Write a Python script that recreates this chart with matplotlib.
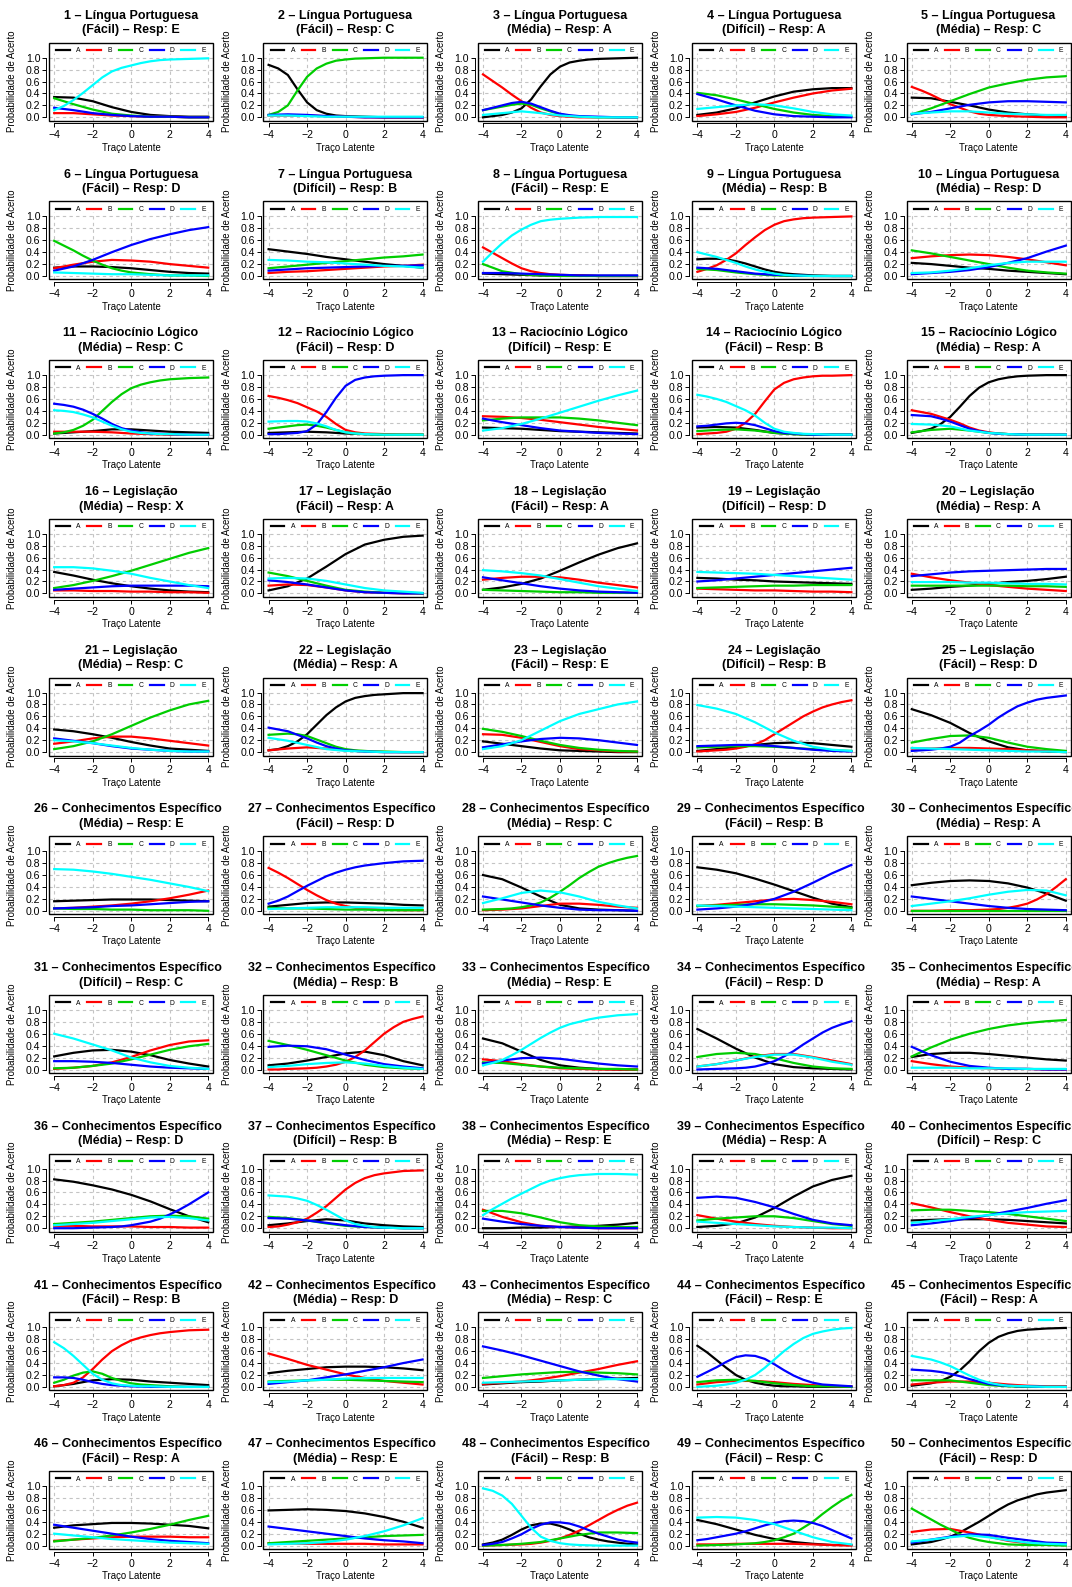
import matplotlib
matplotlib.use("Agg")
import matplotlib.pyplot as plt
from matplotlib.patches import Rectangle
from matplotlib.lines import Line2D
from matplotlib.transforms import Bbox, TransformedBbox

plt.rcParams['font.family'] = ['Liberation Sans', 'DejaVu Sans']

# traço latente onde as curvas foram lidas
theta = [-4, -3, -2, -1, 0, 1, 2, 3, 4]
# meios-passos, lidos só nas curvas mais íngremes
theta_meio = [-3.5, -2.5, -1.5, -0.5, 0.5, 1.5, 2.5, 3.5]

areas = (["Língua Portuguesa"] * 10 + ["Raciocínio Lógico"] * 5 +
         ["Legislação"] * 10 + ["Conhecimentos Específicos"] * 25)
niveis = ["Fácil", "Fácil", "Média", "Difícil", "Média", "Fácil", "Difícil", "Fácil", "Média", "Média",
          "Média", "Fácil", "Difícil", "Fácil", "Média",
          "Média", "Fácil", "Fácil", "Difícil", "Média", "Média", "Média", "Fácil", "Difícil", "Fácil",
          "Média", "Fácil", "Média", "Fácil", "Média", "Difícil", "Média", "Média", "Fácil", "Média",
          "Média", "Difícil", "Média", "Média", "Difícil", "Fácil", "Média", "Média", "Fácil", "Fácil",
          "Fácil", "Média", "Fácil", "Fácil", "Fácil"]
gabarito = ["E", "C", "A", "A", "C", "D", "B", "E", "B", "D",
            "C", "D", "E", "B", "A",
            "X", "A", "A", "D", "A", "C", "A", "E", "B", "D",
            "E", "D", "C", "B", "A", "C", "B", "E", "D", "A",
            "D", "B", "E", "A", "C", "B", "D", "C", "E", "A",
            "A", "E", "B", "C", "D"]

prob_A = [
    [0.34, 0.33, 0.27, 0.17, 0.09, 0.04, 0.02, 0.01, 0.01],
    [0.88, 0.71, 0.25, 0.06, 0.02, 0.01, 0.0, 0.0, 0.0],
    [0.00, 0.04, 0.15, 0.52, 0.85, 0.95, 0.98, 0.99, 1.0],
    [0.04, 0.08, 0.15, 0.25, 0.35, 0.43, 0.47, 0.49, 0.49],
    [0.33, 0.32, 0.26, 0.2, 0.13, 0.08, 0.05, 0.03, 0.02],
    [0.14, 0.16, 0.16, 0.15, 0.13, 0.1, 0.07, 0.05, 0.04],
    [0.45, 0.41, 0.37, 0.32, 0.28, 0.24, 0.2, 0.17, 0.14],
    [0.04, 0.03, 0.02, 0.01, 0.01, 0.01, 0.0, 0.0, 0.0],
    [0.28, 0.29, 0.25, 0.16, 0.07, 0.03, 0.01, 0.0, 0.0],
    [0.22, 0.2, 0.17, 0.14, 0.12, 0.09, 0.07, 0.05, 0.03],
    [0.02, 0.04, 0.06, 0.09, 0.09, 0.07, 0.05, 0.04, 0.03],
    [0.03, 0.04, 0.05, 0.04, 0.02, 0.01, 0.0, 0.0, 0.0],
    [0.12, 0.11, 0.1, 0.08, 0.06, 0.05, 0.04, 0.03, 0.02],
    [0.12, 0.13, 0.12, 0.08, 0.03, 0.01, 0.0, 0.0, 0.0],
    [0.03, 0.1, 0.3, 0.65, 0.88, 0.96, 0.99, 1.0, 1.0],
    [0.36, 0.3, 0.23, 0.17, 0.12, 0.08, 0.05, 0.03, 0.02],
    [0.05, 0.12, 0.25, 0.45, 0.66, 0.82, 0.9, 0.95, 0.97],
    [0.06, 0.1, 0.16, 0.25, 0.38, 0.52, 0.65, 0.76, 0.84],
    [0.26, 0.25, 0.23, 0.22, 0.2, 0.19, 0.18, 0.17, 0.16],
    [0.06, 0.08, 0.11, 0.13, 0.16, 0.19, 0.21, 0.24, 0.28],
    [0.38, 0.35, 0.3, 0.24, 0.17, 0.11, 0.06, 0.04, 0.02],
    [0.03, 0.1, 0.3, 0.62, 0.85, 0.94, 0.97, 0.99, 0.99],
    [0.18, 0.14, 0.1, 0.06, 0.03, 0.02, 0.01, 0.0, 0.0],
    [0.02, 0.05, 0.08, 0.12, 0.15, 0.16, 0.15, 0.12, 0.09],
    [0.72, 0.62, 0.49, 0.32, 0.18, 0.08, 0.03, 0.01, 0.0],
    [0.16, 0.17, 0.18, 0.19, 0.19, 0.19, 0.18, 0.17, 0.16],
    [0.07, 0.1, 0.13, 0.14, 0.14, 0.13, 0.12, 0.1, 0.09],
    [0.6, 0.53, 0.39, 0.24, 0.1, 0.04, 0.02, 0.01, 0.0],
    [0.73, 0.69, 0.63, 0.54, 0.44, 0.33, 0.22, 0.12, 0.06],
    [0.43, 0.47, 0.5, 0.51, 0.5, 0.46, 0.39, 0.29, 0.17],
    [0.22, 0.28, 0.32, 0.33, 0.3, 0.24, 0.16, 0.1, 0.05],
    [0.07, 0.1, 0.15, 0.21, 0.27, 0.3, 0.24, 0.14, 0.07],
    [0.52, 0.44, 0.3, 0.16, 0.07, 0.03, 0.01, 0.0, 0.0],
    [0.68, 0.52, 0.35, 0.2, 0.09, 0.04, 0.02, 0.01, 0.0],
    [0.21, 0.26, 0.28, 0.28, 0.26, 0.23, 0.2, 0.17, 0.15],
    [0.82, 0.78, 0.72, 0.65, 0.56, 0.45, 0.32, 0.2, 0.1],
    [0.05, 0.08, 0.12, 0.15, 0.13, 0.08, 0.05, 0.03, 0.02],
    [0.0, 0.0, 0.01, 0.01, 0.02, 0.03, 0.04, 0.06, 0.09],
    [0.02, 0.04, 0.08, 0.18, 0.34, 0.53, 0.7, 0.81, 0.88],
    [0.13, 0.14, 0.15, 0.15, 0.15, 0.14, 0.12, 0.1, 0.08],
    [0.01, 0.05, 0.11, 0.13, 0.12, 0.09, 0.07, 0.05, 0.03],
    [0.23, 0.27, 0.3, 0.33, 0.34, 0.34, 0.33, 0.31, 0.28],
    [0.04, 0.06, 0.08, 0.09, 0.11, 0.12, 0.13, 0.14, 0.15],
    [0.69, 0.45, 0.2, 0.07, 0.02, 0.01, 0.0, 0.0, 0.0],
    [0.02, 0.06, 0.17, 0.43, 0.74, 0.9, 0.96, 0.98, 0.99],
    [0.3, 0.34, 0.36, 0.38, 0.38, 0.37, 0.35, 0.33, 0.29],
    [0.59, 0.6, 0.61, 0.6, 0.58, 0.54, 0.48, 0.4, 0.3],
    [0.02, 0.1, 0.27, 0.37, 0.33, 0.2, 0.1, 0.05, 0.02],
    [0.43, 0.36, 0.27, 0.18, 0.11, 0.06, 0.03, 0.01, 0.01],
    [0.02, 0.06, 0.15, 0.31, 0.5, 0.69, 0.81, 0.89, 0.93],
]

prob_B = [
    [0.07, 0.07, 0.05, 0.03, 0.02, 0.01, 0.01, 0.0, 0.0],
    [0.03, 0.03, 0.03, 0.02, 0.01, 0.0, 0.0, 0.0, 0.0],
    [0.72, 0.5, 0.27, 0.08, 0.02, 0.0, 0.0, 0.0, 0.0],
    [0.02, 0.05, 0.09, 0.16, 0.25, 0.33, 0.4, 0.45, 0.48],
    [0.51, 0.38, 0.22, 0.1, 0.04, 0.02, 0.01, 0.0, 0.0],
    [0.13, 0.19, 0.24, 0.27, 0.26, 0.24, 0.2, 0.17, 0.14],
    [0.05, 0.07, 0.08, 0.1, 0.12, 0.14, 0.16, 0.17, 0.19],
    [0.48, 0.3, 0.13, 0.05, 0.02, 0.01, 0.0, 0.0, 0.0],
    [0.07, 0.18, 0.38, 0.65, 0.86, 0.95, 0.98, 0.99, 1.0],
    [0.3, 0.33, 0.35, 0.36, 0.35, 0.32, 0.28, 0.23, 0.18],
    [0.05, 0.05, 0.05, 0.04, 0.02, 0.01, 0.0, 0.0, 0.0],
    [0.65, 0.58, 0.46, 0.3, 0.08, 0.02, 0.01, 0.0, 0.0],
    [0.31, 0.3, 0.28, 0.25, 0.21, 0.17, 0.13, 0.1, 0.07],
    [0.01, 0.03, 0.1, 0.35, 0.76, 0.93, 0.98, 0.99, 1.0],
    [0.41, 0.35, 0.25, 0.12, 0.04, 0.01, 0.0, 0.0, 0.0],
    [0.05, 0.05, 0.04, 0.04, 0.03, 0.03, 0.02, 0.02, 0.01],
    [0.13, 0.15, 0.14, 0.1, 0.05, 0.02, 0.01, 0.0, 0.0],
    [0.23, 0.26, 0.28, 0.28, 0.27, 0.23, 0.18, 0.14, 0.1],
    [0.08, 0.07, 0.06, 0.05, 0.05, 0.04, 0.03, 0.03, 0.02],
    [0.33, 0.27, 0.22, 0.18, 0.14, 0.11, 0.08, 0.06, 0.04],
    [0.14, 0.18, 0.23, 0.26, 0.26, 0.23, 0.19, 0.15, 0.11],
    [0.03, 0.06, 0.08, 0.06, 0.03, 0.01, 0.0, 0.0, 0.0],
    [0.3, 0.29, 0.24, 0.17, 0.1, 0.05, 0.03, 0.01, 0.01],
    [0.01, 0.03, 0.06, 0.13, 0.3, 0.5, 0.68, 0.8, 0.87],
    [0.06, 0.06, 0.07, 0.07, 0.06, 0.05, 0.03, 0.02, 0.01],
    [0.04, 0.05, 0.07, 0.09, 0.12, 0.16, 0.21, 0.27, 0.34],
    [0.72, 0.55, 0.35, 0.18, 0.08, 0.04, 0.02, 0.01, 0.01],
    [0.01, 0.02, 0.04, 0.08, 0.12, 0.12, 0.1, 0.07, 0.05],
    [0.08, 0.1, 0.13, 0.16, 0.19, 0.2, 0.18, 0.15, 0.11],
    [0.0, 0.0, 0.01, 0.01, 0.02, 0.05, 0.12, 0.28, 0.53],
    [0.01, 0.03, 0.06, 0.12, 0.21, 0.32, 0.41, 0.47, 0.49],
    [0.0, 0.01, 0.02, 0.05, 0.13, 0.32, 0.6, 0.8, 0.89],
    [0.17, 0.14, 0.09, 0.05, 0.02, 0.01, 0.0, 0.0, 0.0],
    [0.05, 0.09, 0.15, 0.22, 0.26, 0.26, 0.21, 0.15, 0.09],
    [0.14, 0.09, 0.05, 0.03, 0.02, 0.01, 0.01, 0.0, 0.0],
    [0.04, 0.04, 0.03, 0.03, 0.03, 0.02, 0.02, 0.01, 0.01],
    [0.02, 0.06, 0.16, 0.37, 0.65, 0.84, 0.92, 0.96, 0.97],
    [0.31, 0.19, 0.1, 0.04, 0.02, 0.01, 0.0, 0.0, 0.0],
    [0.22, 0.16, 0.11, 0.07, 0.04, 0.02, 0.01, 0.0, 0.0],
    [0.42, 0.35, 0.27, 0.2, 0.14, 0.09, 0.06, 0.03, 0.02],
    [0.01, 0.07, 0.3, 0.6, 0.78, 0.87, 0.92, 0.95, 0.96],
    [0.56, 0.47, 0.37, 0.29, 0.21, 0.15, 0.1, 0.07, 0.04],
    [0.05, 0.07, 0.09, 0.13, 0.18, 0.24, 0.3, 0.37, 0.43],
    [0.04, 0.08, 0.1, 0.1, 0.08, 0.05, 0.03, 0.01, 0.01],
    [0.04, 0.07, 0.09, 0.09, 0.07, 0.04, 0.02, 0.01, 0.01],
    [0.08, 0.1, 0.12, 0.14, 0.15, 0.15, 0.15, 0.14, 0.14],
    [0.04, 0.04, 0.03, 0.03, 0.03, 0.03, 0.02, 0.02, 0.02],
    [0.0, 0.01, 0.02, 0.05, 0.12, 0.25, 0.43, 0.6, 0.72],
    [0.02, 0.02, 0.03, 0.03, 0.03, 0.03, 0.02, 0.01, 0.0],
    [0.23, 0.27, 0.28, 0.22, 0.15, 0.08, 0.04, 0.02, 0.01],
]

prob_C = [
    [0.32, 0.22, 0.13, 0.06, 0.03, 0.01, 0.01, 0.0, 0.0],
    [0.04, 0.2, 0.68, 0.9, 0.97, 0.99, 1.0, 1.0, 1.0],
    [0.12, 0.18, 0.23, 0.15, 0.05, 0.01, 0.0, 0.0, 0.0],
    [0.41, 0.37, 0.3, 0.22, 0.14, 0.08, 0.04, 0.02, 0.01],
    [0.05, 0.15, 0.27, 0.39, 0.5, 0.57, 0.63, 0.67, 0.69],
    [0.59, 0.43, 0.26, 0.13, 0.06, 0.03, 0.01, 0.01, 0.0],
    [0.13, 0.16, 0.19, 0.22, 0.25, 0.28, 0.31, 0.33, 0.36],
    [0.2, 0.08, 0.03, 0.01, 0.0, 0.0, 0.0, 0.0, 0.0],
    [0.12, 0.1, 0.06, 0.03, 0.01, 0.0, 0.0, 0.0, 0.0],
    [0.43, 0.38, 0.32, 0.26, 0.2, 0.14, 0.09, 0.06, 0.04],
    [0.02, 0.08, 0.25, 0.55, 0.78, 0.88, 0.93, 0.95, 0.96],
    [0.1, 0.14, 0.17, 0.12, 0.04, 0.01, 0.0, 0.0, 0.0],
    [0.24, 0.27, 0.29, 0.29, 0.29, 0.27, 0.24, 0.2, 0.16],
    [0.06, 0.08, 0.09, 0.07, 0.03, 0.01, 0.0, 0.0, 0.0],
    [0.04, 0.08, 0.1, 0.07, 0.03, 0.01, 0.0, 0.0, 0.0],
    [0.09, 0.14, 0.21, 0.29, 0.38, 0.48, 0.58, 0.68, 0.76],
    [0.35, 0.29, 0.21, 0.13, 0.06, 0.03, 0.01, 0.01, 0.0],
    [0.06, 0.05, 0.04, 0.03, 0.02, 0.02, 0.01, 0.01, 0.01],
    [0.09, 0.1, 0.11, 0.12, 0.13, 0.13, 0.14, 0.14, 0.14],
    [0.13, 0.13, 0.13, 0.13, 0.13, 0.13, 0.12, 0.12, 0.11],
    [0.05, 0.1, 0.18, 0.3, 0.44, 0.58, 0.7, 0.8, 0.86],
    [0.29, 0.31, 0.27, 0.15, 0.05, 0.02, 0.01, 0.0, 0.0],
    [0.39, 0.34, 0.27, 0.19, 0.12, 0.07, 0.04, 0.02, 0.01],
    [0.08, 0.09, 0.1, 0.1, 0.09, 0.07, 0.05, 0.03, 0.02],
    [0.16, 0.22, 0.27, 0.28, 0.24, 0.16, 0.09, 0.05, 0.02],
    [0.04, 0.03, 0.03, 0.02, 0.02, 0.01, 0.01, 0.01, 0.0],
    [0.05, 0.04, 0.04, 0.03, 0.02, 0.02, 0.01, 0.01, 0.01],
    [0.02, 0.03, 0.06, 0.14, 0.32, 0.55, 0.74, 0.85, 0.92],
    [0.08, 0.09, 0.1, 0.11, 0.11, 0.1, 0.09, 0.07, 0.05],
    [0.0, 0.0, 0.0, 0.0, 0.0, 0.0, 0.0, 0.0, 0.0],
    [0.02, 0.03, 0.06, 0.1, 0.17, 0.25, 0.33, 0.39, 0.43],
    [0.48, 0.41, 0.33, 0.24, 0.15, 0.08, 0.04, 0.02, 0.01],
    [0.12, 0.11, 0.08, 0.05, 0.03, 0.02, 0.01, 0.01, 0.0],
    [0.21, 0.26, 0.28, 0.26, 0.19, 0.11, 0.05, 0.02, 0.01],
    [0.22, 0.37, 0.5, 0.6, 0.68, 0.74, 0.78, 0.81, 0.83],
    [0.07, 0.09, 0.11, 0.14, 0.17, 0.2, 0.21, 0.2, 0.16],
    [0.19, 0.17, 0.13, 0.08, 0.04, 0.02, 0.01, 0.0, 0.0],
    [0.29, 0.29, 0.25, 0.18, 0.1, 0.05, 0.03, 0.02, 0.02],
    [0.13, 0.16, 0.18, 0.2, 0.2, 0.17, 0.12, 0.07, 0.04],
    [0.3, 0.31, 0.31, 0.29, 0.27, 0.24, 0.2, 0.16, 0.12],
    [0.07, 0.19, 0.26, 0.15, 0.06, 0.03, 0.01, 0.0, 0.0],
    [0.09, 0.1, 0.11, 0.12, 0.12, 0.11, 0.1, 0.09, 0.08],
    [0.15, 0.18, 0.21, 0.23, 0.25, 0.25, 0.24, 0.23, 0.21],
    [0.08, 0.11, 0.12, 0.1, 0.06, 0.03, 0.01, 0.01, 0.0],
    [0.11, 0.11, 0.11, 0.07, 0.03, 0.01, 0.0, 0.0, 0.0],
    [0.07, 0.1, 0.13, 0.17, 0.22, 0.28, 0.35, 0.43, 0.5],
    [0.04, 0.06, 0.08, 0.1, 0.12, 0.14, 0.16, 0.17, 0.18],
    [0.0, 0.01, 0.03, 0.06, 0.12, 0.18, 0.22, 0.22, 0.21],
    [0.0, 0.01, 0.02, 0.04, 0.09, 0.2, 0.4, 0.65, 0.85],
    [0.62, 0.44, 0.27, 0.13, 0.06, 0.02, 0.01, 0.01, 0.0],
]

prob_D = [
    [0.16, 0.12, 0.07, 0.04, 0.02, 0.01, 0.01, 0.0, 0.0],
    [0.04, 0.05, 0.04, 0.02, 0.01, 0.0, 0.0, 0.0, 0.0],
    [0.12, 0.2, 0.26, 0.17, 0.06, 0.02, 0.01, 0.0, 0.0],
    [0.39, 0.3, 0.2, 0.11, 0.05, 0.02, 0.01, 0.0, 0.0],
    [0.05, 0.09, 0.15, 0.21, 0.25, 0.27, 0.27, 0.26, 0.25],
    [0.09, 0.16, 0.27, 0.4, 0.52, 0.62, 0.7, 0.77, 0.82],
    [0.09, 0.11, 0.13, 0.14, 0.15, 0.16, 0.17, 0.17, 0.18],
    [0.05, 0.05, 0.04, 0.03, 0.02, 0.01, 0.01, 0.01, 0.01],
    [0.14, 0.12, 0.08, 0.04, 0.02, 0.01, 0.0, 0.0, 0.0],
    [0.03, 0.05, 0.07, 0.1, 0.15, 0.22, 0.3, 0.41, 0.51],
    [0.52, 0.47, 0.35, 0.18, 0.07, 0.02, 0.01, 0.0, 0.0],
    [0.01, 0.02, 0.06, 0.38, 0.82, 0.96, 0.99, 1.0, 1.0],
    [0.27, 0.21, 0.16, 0.11, 0.07, 0.05, 0.03, 0.02, 0.01],
    [0.14, 0.17, 0.2, 0.16, 0.06, 0.02, 0.0, 0.0, 0.0],
    [0.33, 0.31, 0.22, 0.1, 0.03, 0.01, 0.0, 0.0, 0.0],
    [0.06, 0.08, 0.1, 0.12, 0.13, 0.13, 0.13, 0.13, 0.12],
    [0.22, 0.19, 0.15, 0.1, 0.05, 0.02, 0.01, 0.0, 0.0],
    [0.27, 0.22, 0.17, 0.12, 0.08, 0.05, 0.03, 0.02, 0.01],
    [0.2, 0.22, 0.25, 0.28, 0.31, 0.34, 0.37, 0.4, 0.43],
    [0.29, 0.32, 0.35, 0.37, 0.38, 0.39, 0.4, 0.41, 0.41],
    [0.23, 0.19, 0.15, 0.1, 0.06, 0.04, 0.02, 0.01, 0.01],
    [0.41, 0.35, 0.23, 0.1, 0.03, 0.01, 0.0, 0.0, 0.0],
    [0.08, 0.13, 0.18, 0.22, 0.24, 0.23, 0.2, 0.16, 0.12],
    [0.1, 0.11, 0.12, 0.12, 0.1, 0.07, 0.04, 0.02, 0.01],
    [0.02, 0.04, 0.09, 0.27, 0.46, 0.68, 0.83, 0.91, 0.95],
    [0.04, 0.05, 0.06, 0.08, 0.09, 0.11, 0.13, 0.15, 0.16],
    [0.12, 0.24, 0.42, 0.58, 0.69, 0.76, 0.8, 0.83, 0.84],
    [0.24, 0.19, 0.14, 0.09, 0.05, 0.02, 0.01, 0.01, 0.0],
    [0.02, 0.04, 0.07, 0.12, 0.2, 0.32, 0.47, 0.63, 0.77],
    [0.24, 0.2, 0.16, 0.12, 0.08, 0.05, 0.03, 0.02, 0.01],
    [0.14, 0.14, 0.13, 0.11, 0.08, 0.05, 0.03, 0.02, 0.01],
    [0.38, 0.4, 0.39, 0.34, 0.25, 0.16, 0.09, 0.05, 0.02],
    [0.1, 0.15, 0.19, 0.2, 0.18, 0.14, 0.1, 0.07, 0.05],
    [0.0, 0.01, 0.02, 0.05, 0.14, 0.31, 0.52, 0.7, 0.81],
    [0.38, 0.24, 0.13, 0.06, 0.03, 0.01, 0.01, 0.0, 0.0],
    [0.0, 0.0, 0.01, 0.02, 0.05, 0.11, 0.23, 0.4, 0.6],
    [0.17, 0.16, 0.13, 0.09, 0.05, 0.02, 0.01, 0.0, 0.0],
    [0.16, 0.11, 0.07, 0.04, 0.02, 0.01, 0.0, 0.0, 0.0],
    [0.51, 0.53, 0.51, 0.44, 0.35, 0.24, 0.14, 0.08, 0.05],
    [0.05, 0.08, 0.12, 0.17, 0.22, 0.28, 0.34, 0.41, 0.47],
    [0.16, 0.15, 0.08, 0.03, 0.01, 0.0, 0.0, 0.0, 0.0],
    [0.05, 0.08, 0.11, 0.16, 0.21, 0.27, 0.33, 0.4, 0.46],
    [0.68, 0.61, 0.53, 0.44, 0.35, 0.26, 0.19, 0.13, 0.09],
    [0.17, 0.33, 0.5, 0.52, 0.38, 0.19, 0.07, 0.03, 0.01],
    [0.29, 0.27, 0.22, 0.13, 0.05, 0.02, 0.01, 0.0, 0.0],
    [0.35, 0.3, 0.25, 0.2, 0.15, 0.11, 0.08, 0.06, 0.04],
    [0.32, 0.28, 0.24, 0.2, 0.16, 0.12, 0.09, 0.07, 0.04],
    [0.01, 0.06, 0.19, 0.35, 0.39, 0.32, 0.2, 0.1, 0.05],
    [0.09, 0.14, 0.2, 0.29, 0.38, 0.42, 0.38, 0.26, 0.12],
    [0.05, 0.1, 0.15, 0.19, 0.18, 0.13, 0.09, 0.05, 0.04],
]

prob_E = [
    [0.12, 0.29, 0.54, 0.77, 0.87, 0.94, 0.97, 0.98, 0.99],
    [0.03, 0.03, 0.02, 0.01, 0.01, 0.01, 0.01, 0.01, 0.01],
    [0.04, 0.07, 0.1, 0.07, 0.03, 0.01, 0.0, 0.0, 0.0],
    [0.14, 0.17, 0.2, 0.22, 0.2, 0.15, 0.09, 0.05, 0.03],
    [0.06, 0.08, 0.1, 0.1, 0.08, 0.06, 0.05, 0.04, 0.04],
    [0.06, 0.05, 0.04, 0.03, 0.03, 0.02, 0.01, 0.01, 0.01],
    [0.27, 0.26, 0.24, 0.23, 0.21, 0.19, 0.17, 0.16, 0.14],
    [0.24, 0.55, 0.78, 0.92, 0.96, 0.98, 0.99, 0.99, 0.99],
    [0.4, 0.32, 0.22, 0.11, 0.04, 0.01, 0.0, 0.0, 0.0],
    [0.05, 0.06, 0.09, 0.13, 0.18, 0.22, 0.24, 0.24, 0.24],
    [0.41, 0.38, 0.29, 0.15, 0.05, 0.02, 0.01, 0.0, 0.0],
    [0.22, 0.23, 0.22, 0.14, 0.04, 0.01, 0.0, 0.0, 0.0],
    [0.07, 0.11, 0.18, 0.27, 0.37, 0.47, 0.57, 0.66, 0.74],
    [0.67, 0.6, 0.48, 0.32, 0.1, 0.03, 0.01, 0.0, 0.0],
    [0.18, 0.17, 0.14, 0.07, 0.03, 0.01, 0.0, 0.0, 0.0],
    [0.44, 0.44, 0.42, 0.38, 0.33, 0.26, 0.2, 0.14, 0.09],
    [0.25, 0.26, 0.25, 0.21, 0.15, 0.09, 0.05, 0.03, 0.01],
    [0.39, 0.37, 0.34, 0.3, 0.24, 0.18, 0.12, 0.08, 0.04],
    [0.36, 0.35, 0.34, 0.33, 0.31, 0.29, 0.27, 0.25, 0.23],
    [0.19, 0.19, 0.19, 0.18, 0.18, 0.17, 0.16, 0.16, 0.15],
    [0.2, 0.18, 0.15, 0.11, 0.07, 0.04, 0.02, 0.01, 0.01],
    [0.24, 0.19, 0.12, 0.05, 0.02, 0.01, 0.0, 0.0, 0.0],
    [0.05, 0.1, 0.2, 0.36, 0.52, 0.64, 0.72, 0.8, 0.85],
    [0.79, 0.73, 0.64, 0.5, 0.33, 0.19, 0.09, 0.04, 0.02],
    [0.07, 0.06, 0.05, 0.04, 0.03, 0.02, 0.01, 0.01, 0.0],
    [0.7, 0.69, 0.66, 0.62, 0.57, 0.52, 0.46, 0.4, 0.33],
    [0.03, 0.04, 0.05, 0.06, 0.06, 0.06, 0.05, 0.05, 0.05],
    [0.13, 0.21, 0.3, 0.34, 0.31, 0.24, 0.15, 0.09, 0.04],
    [0.09, 0.08, 0.07, 0.06, 0.05, 0.04, 0.03, 0.02, 0.01],
    [0.08, 0.12, 0.16, 0.21, 0.27, 0.32, 0.35, 0.34, 0.26],
    [0.6, 0.52, 0.42, 0.32, 0.2, 0.12, 0.06, 0.03, 0.01],
    [0.04, 0.06, 0.09, 0.11, 0.12, 0.1, 0.06, 0.03, 0.01],
    [0.07, 0.16, 0.33, 0.53, 0.7, 0.8, 0.87, 0.91, 0.93],
    [0.05, 0.09, 0.15, 0.21, 0.25, 0.25, 0.2, 0.13, 0.08],
    [0.03, 0.03, 0.03, 0.02, 0.02, 0.02, 0.01, 0.01, 0.01],
    [0.05, 0.07, 0.09, 0.12, 0.15, 0.18, 0.19, 0.17, 0.13],
    [0.55, 0.53, 0.46, 0.31, 0.13, 0.04, 0.01, 0.0, 0.0],
    [0.22, 0.41, 0.58, 0.74, 0.84, 0.89, 0.91, 0.91, 0.9],
    [0.11, 0.09, 0.07, 0.05, 0.03, 0.02, 0.01, 0.01, 0.0],
    [0.09, 0.12, 0.15, 0.19, 0.22, 0.25, 0.27, 0.28, 0.29],
    [0.75, 0.52, 0.22, 0.06, 0.02, 0.01, 0.0, 0.0, 0.0],
    [0.08, 0.09, 0.11, 0.12, 0.14, 0.15, 0.15, 0.15, 0.15],
    [0.07, 0.08, 0.09, 0.1, 0.11, 0.12, 0.13, 0.13, 0.13],
    [0.0, 0.02, 0.07, 0.2, 0.46, 0.72, 0.89, 0.96, 0.99],
    [0.52, 0.46, 0.35, 0.19, 0.07, 0.02, 0.01, 0.0, 0.0],
    [0.2, 0.17, 0.14, 0.11, 0.09, 0.07, 0.05, 0.04, 0.03],
    [0.02, 0.03, 0.04, 0.06, 0.1, 0.16, 0.24, 0.34, 0.46],
    [0.96, 0.84, 0.5, 0.15, 0.04, 0.01, 0.0, 0.0, 0.0],
    [0.47, 0.48, 0.47, 0.43, 0.36, 0.25, 0.14, 0.06, 0.02],
    [0.07, 0.1, 0.14, 0.17, 0.14, 0.09, 0.05, 0.03, 0.02],
]

# valores nos meios-passos (theta_meio), por item, para as curvas íngremes
meio_A = {
    2: [0.82, 0.47, 0.12, 0.03, 0.015, 0.005, 0.0, 0.0],
    3: [0.02, 0.08, 0.3, 0.72, 0.92, 0.97, 0.985, 0.995],
    9: [0.29, 0.28, 0.21, 0.11, 0.045, 0.02, 0.005, 0.0],
    15: [0.06, 0.18, 0.47, 0.79, 0.93, 0.98, 0.995, 1.0],
    22: [0.05, 0.18, 0.46, 0.75, 0.91, 0.96, 0.98, 0.99],
    44: [0.58, 0.32, 0.12, 0.04, 0.01, 0.005, 0.0, 0.0],
    45: [0.04, 0.1, 0.28, 0.6, 0.84, 0.94, 0.97, 0.985],
    48: [0.05, 0.18, 0.34, 0.37, 0.27, 0.14, 0.07, 0.03],
    50: [0.04, 0.1, 0.22, 0.4, 0.6, 0.76, 0.86, 0.91],
}
meio_B = {
    3: [0.61, 0.38, 0.16, 0.04, 0.01, 0.0, 0.0, 0.0],
    5: [0.45, 0.3, 0.16, 0.06, 0.03, 0.015, 0.005, 0.0],
    8: [0.39, 0.21, 0.08, 0.03, 0.015, 0.005, 0.0, 0.0],
    9: [0.12, 0.27, 0.52, 0.77, 0.92, 0.97, 0.985, 0.995],
    12: [0.62, 0.53, 0.39, 0.18, 0.04, 0.015, 0.005, 0.0],
    14: [0.02, 0.05, 0.2, 0.56, 0.87, 0.96, 0.99, 0.995],
    15: [0.38, 0.3, 0.19, 0.07, 0.02, 0.005, 0.0, 0.0],
    24: [0.02, 0.04, 0.09, 0.2, 0.4, 0.6, 0.75, 0.84],
    27: [0.64, 0.45, 0.26, 0.12, 0.05, 0.03, 0.015, 0.01],
    30: [0.0, 0.005, 0.01, 0.015, 0.03, 0.08, 0.19, 0.4],
    32: [0.0, 0.015, 0.03, 0.08, 0.21, 0.46, 0.71, 0.85],
    37: [0.03, 0.1, 0.26, 0.51, 0.76, 0.89, 0.94, 0.965],
    41: [0.03, 0.16, 0.46, 0.7, 0.83, 0.9, 0.935, 0.955],
    48: [0.005, 0.015, 0.03, 0.08, 0.18, 0.34, 0.52, 0.67],
}
meio_C = {
    2: [0.09, 0.45, 0.82, 0.95, 0.985, 0.995, 1.0, 1.0],
    3: [0.15, 0.21, 0.21, 0.1, 0.025, 0.005, 0.0, 0.0],
    6: [0.51, 0.34, 0.19, 0.09, 0.045, 0.02, 0.01, 0.005],
    11: [0.04, 0.15, 0.4, 0.68, 0.84, 0.91, 0.94, 0.955],
    12: [0.12, 0.16, 0.15, 0.08, 0.02, 0.005, 0.0, 0.0],
    22: [0.3, 0.3, 0.21, 0.09, 0.03, 0.01, 0.005, 0.0],
    28: [0.025, 0.04, 0.09, 0.22, 0.43, 0.65, 0.8, 0.89],
    41: [0.12, 0.24, 0.22, 0.1, 0.04, 0.02, 0.005, 0.0],
    49: [0.005, 0.015, 0.03, 0.06, 0.14, 0.3, 0.53, 0.76],
    50: [0.53, 0.35, 0.19, 0.09, 0.04, 0.015, 0.01, 0.005],
}
meio_D = {
    3: [0.16, 0.24, 0.23, 0.11, 0.035, 0.015, 0.005, 0.0],
    11: [0.5, 0.42, 0.27, 0.11, 0.04, 0.015, 0.005, 0.0],
    12: [0.01, 0.03, 0.17, 0.62, 0.92, 0.98, 0.995, 1.0],
    14: [0.15, 0.19, 0.19, 0.11, 0.03, 0.01, 0.0, 0.0],
    15: [0.32, 0.27, 0.16, 0.06, 0.015, 0.005, 0.0, 0.0],
    22: [0.38, 0.29, 0.16, 0.06, 0.02, 0.005, 0.0, 0.0],
    25: [0.03, 0.06, 0.16, 0.36, 0.58, 0.77, 0.88, 0.93],
    27: [0.17, 0.33, 0.5, 0.64, 0.73, 0.78, 0.815, 0.835],
    34: [0.005, 0.015, 0.03, 0.09, 0.22, 0.42, 0.62, 0.76],
    36: [0.0, 0.005, 0.015, 0.03, 0.08, 0.16, 0.31, 0.5],
    41: [0.16, 0.12, 0.05, 0.02, 0.005, 0.0, 0.0, 0.0],
    44: [0.25, 0.42, 0.53, 0.47, 0.28, 0.12, 0.04, 0.02],
    45: [0.28, 0.25, 0.18, 0.09, 0.03, 0.01, 0.005, 0.0],
    48: [0.03, 0.12, 0.28, 0.39, 0.37, 0.26, 0.15, 0.07],
    49: [0.11, 0.17, 0.24, 0.34, 0.41, 0.41, 0.33, 0.19],
}
meio_E = {
    1: [0.19, 0.41, 0.67, 0.83, 0.91, 0.96, 0.975, 0.985],
    8: [0.4, 0.68, 0.86, 0.945, 0.97, 0.985, 0.99, 0.99],
    9: [0.36, 0.27, 0.16, 0.07, 0.02, 0.005, 0.0, 0.0],
    11: [0.4, 0.34, 0.22, 0.09, 0.03, 0.01, 0.005, 0.0],
    12: [0.225, 0.23, 0.19, 0.08, 0.02, 0.005, 0.0, 0.0],
    14: [0.64, 0.55, 0.41, 0.2, 0.05, 0.015, 0.005, 0.0],
    33: [0.11, 0.24, 0.43, 0.62, 0.76, 0.84, 0.89, 0.92],
    37: [0.54, 0.5, 0.39, 0.22, 0.07, 0.02, 0.005, 0.0],
    38: [0.32, 0.5, 0.66, 0.8, 0.87, 0.9, 0.91, 0.905],
    41: [0.65, 0.37, 0.12, 0.03, 0.01, 0.005, 0.0, 0.0],
    44: [0.01, 0.04, 0.12, 0.32, 0.6, 0.82, 0.93, 0.98],
    45: [0.49, 0.41, 0.27, 0.12, 0.04, 0.015, 0.005, 0.0],
    48: [0.92, 0.7, 0.3, 0.08, 0.02, 0.005, 0.0, 0.0],
}

letras = ["A", "B", "C", "D", "E"]
cores = ["black", "red", "#00CD00", "blue", "cyan"]
curvas = [prob_A, prob_B, prob_C, prob_D, prob_E]
meios = [meio_A, meio_B, meio_C, meio_D, meio_E]

W, H = 1072, 1587
fig = plt.figure(figsize=(W / 100, H / 100), dpi=100)
cw, ch = W / 5, H / 10

for i in range(50):
    r, c = divmod(i, 5)
    x0 = c * cw
    y0 = r * ch
    # caixa do gráfico em pixels dentro da célula
    left, right, top, bottom = x0 + 49, x0 + 213, y0 + 42.7, y0 + 120.7
    ax = fig.add_axes([left / W, 1 - bottom / H, (right - left) / W, (bottom - top) / H])
    ax.set_xlim(-4.27, 4.25)
    ax.set_ylim(-0.057, 1.252)

    for yv in [0, 0.2, 0.4, 0.6, 0.8, 1.0]:
        ax.axhline(yv, color="#c4c4c4", lw=0.8, ls=(0, (3, 3)), zorder=1)
    ax.vlines([-4, -2, 0, 2, 4], -0.057, 1.08, color="#c4c4c4", lw=0.8,
              linestyles=[(0, (3, 3))], zorder=1)

    for k in range(5):
        xs, ys = theta, curvas[k][i]
        if (i + 1) in meios[k]:
            pts = sorted(list(zip(theta, curvas[k][i])) + list(zip(theta_meio, meios[k][i + 1])))
            xs = [p[0] for p in pts]
            ys = [p[1] for p in pts]
        ax.plot(xs, ys, color=cores[k], lw=1.6, zorder=3, solid_joinstyle="round")

    hand = [Line2D([], [], color=cores[k], lw=1.6) for k in range(5)]
    ax.legend(hand, letras, ncol=5, loc="center", bbox_to_anchor=(0.5, 0.895),
              frameon=False, fontsize=4.9, handlelength=2.0, handletextpad=0.9,
              columnspacing=1.0, borderaxespad=0, borderpad=0)

    for s in ax.spines.values():
        s.set_visible(False)
    ax.add_patch(Rectangle((0, 0), 1, 1, transform=ax.transAxes, fill=False,
                           lw=1.0, ec="black", zorder=5, clip_on=False))
    ax.spines["left"].set_visible(True)
    ax.spines["left"].set_position(("outward", 2))
    ax.spines["left"].set_bounds(0, 1)
    ax.spines["left"].set_linewidth(0.7)
    ax.spines["bottom"].set_visible(True)
    ax.spines["bottom"].set_position(("outward", 2))
    ax.spines["bottom"].set_bounds(-4, 4)
    ax.spines["bottom"].set_linewidth(0.7)

    ax.set_yticks([0, 0.2, 0.4, 0.6, 0.8, 1.0])
    ax.set_yticklabels(["0.0", "0.2", "0.4", "0.6", "0.8", "1.0"])
    ax.set_xticks([-4, -2, 0, 2, 4])
    ax.tick_params(direction="out", length=2.8, width=0.7, labelsize=7.6, pad=1.5)
    ax.tick_params(axis="x", pad=2.2)

    # títulos (cortados na borda da célula, como no original)
    clip = TransformedBbox(Bbox.from_extents(x0 / W, 0, (x0 + 221.5) / W, 1), fig.transFigure)
    xc = (left + right) / 2 / W
    t1 = fig.text(xc, 1 - (y0 + 16) / H, f"{i + 1} – {areas[i]}", ha="center", va="center",
                  fontsize=9, fontweight="bold")
    t2 = fig.text(xc, 1 - (y0 + 30.5) / H, f"({niveis[i]}) – Resp: {gabarito[i]}", ha="center",
                  va="center", fontsize=9, fontweight="bold")
    for t in (t1, t2):
        t.set_clip_box(clip)
        t.set_clip_on(True)

    fig.text((x0 + 12.5) / W, 1 - (top + bottom) / 2 / H, "Probabilidade de Acerto",
             rotation=90, ha="center", va="center", fontsize=6.9)
    fig.text(xc, 1 - (y0 + 148) / H, "Traço Latente", ha="center", va="center", fontsize=6.9)

fig.savefig("out.png", dpi=100)
